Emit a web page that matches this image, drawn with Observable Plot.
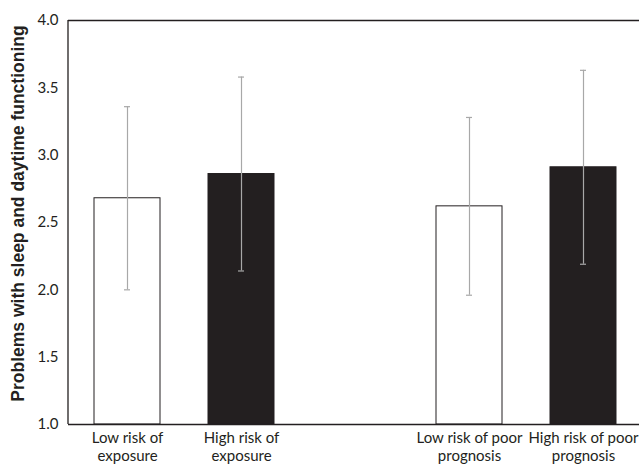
<!DOCTYPE html>
<html>
<head>
<meta charset="utf-8">
<script src="https://cdn.jsdelivr.net/npm/d3@7"></script>
<script src="https://cdn.jsdelivr.net/npm/@observablehq/plot@0.6"></script>
<style>
  html, body { margin: 0; padding: 0; background: #fff; }
  #chart svg { overflow: hidden; }
</style>
</head>
<body>
<div id="chart"></div>
<script>
const categories = ["Low risk of exposure", "High risk of exposure", "", "Low risk of poor prognosis", "High risk of poor prognosis"];
const tickLabels = ["Low risk of\nexposure", "High risk of\nexposure", "", "Low risk of poor\nprognosis", "High risk of poor\nprognosis"];
const means = [2.68, 2.86, null, 2.62, 2.91];
const errLow = [2.00, 2.14, null, 1.96, 2.19];
const errHigh = [3.36, 3.58, null, 3.28, 3.63];
const risk = ["low", "high", null, "low", "high"];
const yTicks = [1.0, 1.5, 2.0, 2.5, 3.0, 3.5, 4.0];
const yTitle = "Problems with sleep and daytime functioning";

const data = categories.map((c, i) => ({
  cat: c, mean: means[i], lo: errLow[i], hi: errHigh[i], risk: risk[i]
})).filter(d => d.mean != null);

const labelOf = new Map(categories.map((c, i) => [c, tickLabels[i]]));
const font = "Lato, 'Open Sans', sans-serif";

const leftAxisLine = (index, scales, values, dims) => {
  const g = d3.create("svg:g");
  g.append("line")
    .attr("x1", dims.marginLeft).attr("x2", dims.marginLeft)
    .attr("y1", dims.marginTop).attr("y2", dims.height - dims.marginBottom)
    .attr("stroke", "#231f20").attr("stroke-width", 1.3);
  return g.node();
};

const chart = Plot.plot({
  width: 639,
  height: 464,
  marginLeft: 68,
  marginTop: 20,
  marginBottom: 40,
  marginRight: 0,
  style: { fontFamily: font, fontSize: "12px", color: "#231f20", background: "#fff" },
  x: { domain: categories, range: [68.6, 642], paddingInner: 0.42, paddingOuter: 0.21, axis: null },
  y: { domain: [1, 4], axis: null },
  marks: [
    Plot.barY(data, {
      x: "cat", y1: 1, y2: "mean",
      fill: d => d.risk === "high" ? "#231f20" : "#fff",
      stroke: "#231f20", strokeWidth: 1
    }),
    Plot.ruleX(data, { x: "cat", y1: "lo", y2: "hi", stroke: "#a8a8a8", strokeWidth: 1.2 }),
    Plot.tickY(data, { x: "cat", y: "lo", stroke: "#a8a8a8", strokeWidth: 1.2, inset: 30 }),
    Plot.tickY(data, { x: "cat", y: "hi", stroke: "#a8a8a8", strokeWidth: 1.2, inset: 30 }),
    Plot.ruleY([1, 4], { stroke: "#231f20", strokeWidth: 1.3 }),
    leftAxisLine,
    Plot.axisY(yTicks, { tickSize: 0, tickPadding: 10, tickFormat: d3.format(".1f"), label: null, fontSize: 15, fill: "#231f20" }),
    Plot.axisX(categories.filter(c => c !== ""), {
      tickSize: 0, tickPadding: 6, label: null,
      tickFormat: c => labelOf.get(c), fontSize: 15, lineHeight: 1.2, fill: "#231f20"
    }),
    Plot.text([yTitle], {
      frameAnchor: "left", textAnchor: "middle", dx: -50, dy: -9, rotate: -90,
      fontWeight: "bold", fontSize: 17.5, fontFamily: "'Liberation Sans', Arial, sans-serif", fill: "#231f20"
    })
  ]
});
document.getElementById("chart").append(chart);
</script>
</body>
</html>
